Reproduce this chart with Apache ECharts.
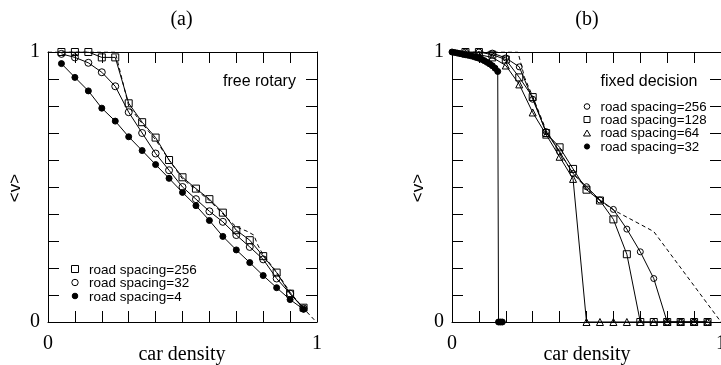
<!DOCTYPE html>
<html>
<head>
<meta charset="utf-8">
<script src="https://cdn.jsdelivr.net/npm/echarts@6/dist/echarts.min.js"></script>
<style>
  html, body { margin: 0; padding: 0; background: #fff; }
  #main { width: 721px; height: 365px; }
</style>
</head>
<body>
<div id="main"></div>
<script>
// car density (x) for the regular series
const densA = [0.05, 0.1, 0.15, 0.2, 0.25, 0.3, 0.35, 0.4, 0.45, 0.5, 0.55, 0.6, 0.65, 0.7, 0.75, 0.8, 0.85, 0.9, 0.95];
const densB = [0.05, 0.1, 0.15, 0.2, 0.25, 0.3, 0.35, 0.4, 0.45, 0.5, 0.55, 0.6, 0.65, 0.7, 0.75, 0.8, 0.85, 0.9, 0.95];

// (a) free rotary
const vA256 = [1.0, 1.0, 1.0, 0.98, 0.98, 0.81, 0.74, 0.683, 0.6, 0.536, 0.494, 0.455, 0.405, 0.34, 0.303, 0.244, 0.183, 0.105, 0.053];
const vA32 = [0.993, 0.98, 0.96, 0.925, 0.873, 0.777, 0.7, 0.624, 0.562, 0.5, 0.455, 0.41, 0.371, 0.322, 0.278, 0.232, 0.161, 0.105, 0.05];
const vA4 = [0.957, 0.906, 0.856, 0.792, 0.744, 0.686, 0.635, 0.583, 0.532, 0.48, 0.431, 0.376, 0.317, 0.267, 0.22, 0.172, 0.127, 0.083, 0.047];
const dashAx = [0, 0.25, 0.3, 0.35, 0.4, 0.45, 0.5, 0.55, 0.6, 0.64, 0.7, 0.74, 0.765, 0.78, 0.8, 0.85, 0.9, 0.95, 0.99];
const dashAv = [1, 1, 0.8, 0.735, 0.675, 0.6, 0.53, 0.49, 0.45, 0.41, 0.352, 0.336, 0.322, 0.285, 0.248, 0.185, 0.11, 0.05, 0.008];

// (b) fixed decision
const vB256 = [1.0, 1.0, 0.996, 0.978, 0.945, 0.825, 0.705, 0.63, 0.55, 0.501, 0.452, 0.417, 0.344, 0.26, 0.161, 0, 0, 0, 0];
const vB128 = [1.0, 1.0, 0.99, 0.972, 0.906, 0.833, 0.7, 0.647, 0.567, 0.49, 0.45, 0.38, 0.251, 0, 0, 0, 0, 0, 0];
const vB64 = [0.995, 0.99, 0.98, 0.95, 0.88, 0.776, 0.694, 0.612, 0.53, 0, 0, 0, 0, 0, 0, 0, 0, 0, 0];
const densB32 = [0, 0.01, 0.02, 0.03, 0.04, 0.05, 0.06, 0.07, 0.08, 0.09, 0.1, 0.11, 0.12, 0.13, 0.14, 0.15, 0.16, 0.17, 0.173, 0.18, 0.187];
const vB32 = [1.0, 0.998, 0.996, 0.994, 0.992, 0.99, 0.988, 0.986, 0.983, 0.98, 0.977, 0.973, 0.968, 0.962, 0.956, 0.949, 0.94, 0.928, 0, 0, 0];
const dashBx = [0, 0.245, 0.27, 0.3, 0.35, 0.4, 0.45, 0.5, 0.55, 0.6, 0.75, 1.0];
const dashBv = [1, 1, 0.905, 0.835, 0.71, 0.63, 0.55, 0.495, 0.45, 0.415, 0.335, 0];

const tickLabels = ['0', '1'];

const serif = 'Liberation Serif';
const sans = 'Liberation Sans';

const pairs = (xs, ys) => xs.map((x, i) => [x, ys[i]]);

function endLabel(v) {
  if (v === 0) return tickLabels[0];
  if (Math.abs(v - 1) < 1e-9) return tickLabels[1];
  return '';
}

function axisBase(grid) {
  return {
    type: 'value', gridIndex: grid, min: 0, max: 1, interval: 0.1,
    axisLine: { onZero: false, lineStyle: { color: '#000', width: 1 } },
    axisTick: { inside: true, length: 11, lineStyle: { color: '#000' } },
    splitLine: { show: false }
  };
}

function xAxes(grid) {
  return [
    Object.assign(axisBase(grid), {
      position: 'bottom',
      axisLabel: {
        margin: 12, color: '#000', fontFamily: serif, fontSize: 20, formatter: endLabel,
        alignMinLabel: 'center', alignMaxLabel: 'center', hideOverlap: false
      }
    }),
    Object.assign(axisBase(grid), { position: 'top', axisLabel: { show: false } })
  ];
}

function yAxes(grid) {
  return [
    Object.assign(axisBase(grid), {
      position: 'left',
      axisLabel: { margin: 8, color: '#000', fontFamily: serif, fontSize: 20, formatter: endLabel }
    }),
    Object.assign(axisBase(grid), { position: 'right', axisLabel: { show: false } })
  ];
}

function line(xi, yi, data, symbol, size, filled) {
  return {
    type: 'line', xAxisIndex: xi, yAxisIndex: yi, data: data,
    symbol: symbol, symbolSize: size, showSymbol: true, silent: true,
    lineStyle: { color: '#000', width: 1 },
    itemStyle: { color: filled ? '#000' : 'rgba(0,0,0,0)', borderColor: '#000', borderWidth: 1 },
    emphasis: { disabled: true }
  };
}

function dashed(xi, yi, data) {
  return {
    type: 'line', xAxisIndex: xi, yAxisIndex: yi, data: data,
    symbol: 'none', silent: true,
    lineStyle: { color: '#000', width: 1, type: [4, 3] }
  };
}

function txt(x, y, text, font, size, align) {
  return {
    type: 'text', x: x, y: y, silent: true,
    style: {
      text: text, fill: '#000', font: size + 'px "' + font + '"',
      textAlign: align || 'center', align: align || 'center',
      textVerticalAlign: 'middle', verticalAlign: 'middle'
    }
  };
}

function vtxt(x, y, text, font, size) {
  const t = txt(x, y, text, font, size);
  t.rotation = Math.PI / 2;
  return t;
}

const hollow = { fill: 'none', stroke: '#000', lineWidth: 1 };
const solid = { fill: '#000', stroke: '#000', lineWidth: 1 };

const chart = echarts.init(document.getElementById('main'), null, { renderer: 'canvas' });

const option = {
  animation: false,
  backgroundColor: '#fff',
  grid: [
    { left: 48, top: 52, width: 269, height: 270, outerBoundsMode: 'none' },
    { left: 452, top: 52, width: 269, height: 270, outerBoundsMode: 'none' }
  ],
  xAxis: xAxes(0).concat(xAxes(1)),
  yAxis: yAxes(0).concat(yAxes(1)),
  series: [
    dashed(0, 0, pairs(dashAx, dashAv)),
    line(0, 0, pairs(densA, vA4), 'circle', 6, true),
    line(0, 0, pairs(densA, vA32), 'circle', 7, false),
    line(0, 0, pairs(densA, vA256), 'rect', 7, false),

    dashed(2, 2, pairs(dashBx, dashBv)),
    line(2, 2, pairs(densB32, vB32), 'circle', 6, true),
    line(2, 2, pairs(densB, vB64), 'triangle', 7, false),
    line(2, 2, pairs(densB, vB128), 'rect', 7, false),
    line(2, 2, pairs(densB, vB256), 'circle', 6, false)
  ],
  graphic: [
    txt(181.5, 20, '(a)', serif, 20),
    txt(587, 20, '(b)', serif, 20),
    txt(182, 355, 'car density', serif, 20),
    txt(587, 355, 'car density', serif, 20),
    vtxt(15, 188, '<v>', sans, 17),
    vtxt(418, 188, '<v>', sans, 17),
    txt(223, 82, 'free rotary', sans, 16, 'left'),
    txt(600.5, 82, 'fixed decision', sans, 16, 'left'),

    { type: 'rect', shape: { x: 71.5, y: 265.5, width: 7, height: 7 }, style: hollow, silent: true },
    { type: 'circle', shape: { cx: 75, cy: 282.5, r: 3.2 }, style: hollow, silent: true },
    { type: 'circle', shape: { cx: 75, cy: 296, r: 2.8 }, style: solid, silent: true },
    txt(89, 270, 'road spacing=256', sans, 13.5, 'left'),
    txt(89, 283.5, 'road spacing=32', sans, 13.5, 'left'),
    txt(89, 297, 'road spacing=4', sans, 13.5, 'left'),

    { type: 'circle', shape: { cx: 587, cy: 106.5, r: 2.8 }, style: hollow, silent: true },
    { type: 'rect', shape: { x: 584, y: 116.5, width: 6, height: 6 }, style: hollow, silent: true },
    { type: 'polygon', shape: { points: [[587, 130], [590.5, 136], [583.5, 136]] }, style: hollow, silent: true },
    { type: 'circle', shape: { cx: 587, cy: 146.5, r: 2.6 }, style: solid, silent: true },
    txt(600.5, 107, 'road spacing=256', sans, 13.3, 'left'),
    txt(600.5, 120.3, 'road spacing=128', sans, 13.3, 'left'),
    txt(600.5, 133.6, 'road spacing=64', sans, 13.3, 'left'),
    txt(600.5, 147, 'road spacing=32', sans, 13.3, 'left')
  ]
};

chart.setOption(option);
</script>
</body>
</html>
